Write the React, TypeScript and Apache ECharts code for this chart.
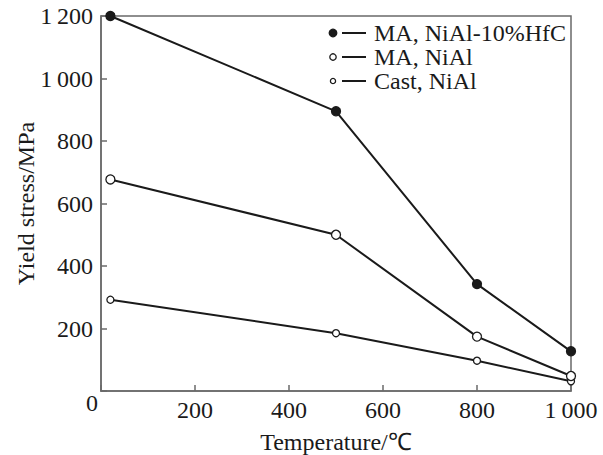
import React, { useEffect, useRef } from "react";
import * as echarts from "echarts";

const temperatures = [20, 500, 800, 1000];
const hfcStress = [1200, 895, 342, 127];
const maNiAlStress = [677, 500, 174, 48];
const castNiAlStress = [292, 185, 97, 31];

const seriesNames = ["MA, NiAl-10%HfC", "MA, NiAl", "Cast, NiAl"];
const xTicks = [0, 200, 400, 600, 800, 1000];
const yTicks = [0, 200, 400, 600, 800, 1000, 1200];

const FONT = "Liberation Serif";
const FS = 24;
const INK = "#1a1a1a";

const fmt = (v: number) =>
  v === 0 ? "" : v >= 1000 ? `${Math.floor(v / 1000)}\u2009${String(v % 1000).padStart(3, "0")}` : String(v);

export default function App() {
  const ref = useRef<HTMLDivElement>(null);

  useEffect(() => {
    if (!ref.current) return;
    const chart = echarts.init(ref.current, undefined, { renderer: "svg" });

    const markerStyles = [
      { size: 9, fill: INK },
      { size: 9, fill: "#fff" },
      { size: 7, fill: "#fff" },
    ];
    const values = [hfcStress, maNiAlStress, castNiAlStress];

    const legendItems: any[] = [];
    seriesNames.forEach((name, i) => {
      const y = 33 + i * 24;
      const r = [3.8, 3.2, 2.6][i];
      legendItems.push(
        {
          type: "circle",
          shape: { cx: 333, cy: y, r },
          style: { fill: markerStyles[i].fill, stroke: INK, lineWidth: 1.3 },
        },
        {
          type: "line",
          shape: { x1: 342, y1: y, x2: 366, y2: y },
          style: { stroke: INK, lineWidth: 2 },
        },
        {
          type: "text",
          x: 374,
          y,
          style: {
            text: name,
            fontFamily: FONT,
            fontSize: FS,
            fill: INK,
            verticalAlign: "middle",
            align: "left",
          },
        }
      );
    });

    const axisText = { fontFamily: FONT, fontSize: FS, color: INK };

    chart.setOption({
      animation: false,
      backgroundColor: "#fff",
      textStyle: { fontFamily: FONT },
      grid: {
        left: 101,
        right: 32,
        top: 16,
        bottom: 64,
        containLabel: false,
        outerBoundsMode: "none",
        show: true,
        borderColor: "#6a6a6a",
        borderWidth: 1.5,
      },
      xAxis: {
        type: "value",
        min: 0,
        max: 1000,
        interval: 200,
        name: "Temperature/\u2103",
        nameLocation: "middle",
        nameGap: 39,
        nameMoveOverlap: false,
        nameTextStyle: axisText,
        axisLine: { lineStyle: { color: "#6a6a6a", width: 1.5 } },
        axisTick: { inside: true, length: 6, lineStyle: { color: "#6a6a6a", width: 1.5 } },
        axisLabel: { ...axisText, formatter: fmt, margin: 7, customValues: xTicks },
        splitLine: { show: false },
      },
      yAxis: {
        type: "value",
        min: 0,
        max: 1200,
        interval: 200,
        name: "Yield stress/MPa",
        nameLocation: "middle",
        nameGap: 63,
        nameMoveOverlap: false,
        nameTextStyle: axisText,
        axisLine: { lineStyle: { color: "#6a6a6a", width: 1.5 } },
        axisTick: { inside: true, length: 6, lineStyle: { color: "#6a6a6a", width: 1.5 } },
        axisLabel: { ...axisText, formatter: fmt, margin: 8, customValues: yTicks },
        splitLine: { show: false },
      },
      series: seriesNames.map((name, i) => ({
        name,
        type: "line",
        data: temperatures.map((t, j) => [t, values[i][j]]),
        symbol: "circle",
        symbolSize: markerStyles[i].size,
        showSymbol: true,
        clip: false,
        lineStyle: { color: INK, width: 2 },
        itemStyle: { color: markerStyles[i].fill, borderColor: INK, borderWidth: 1.3 },
        z: 3 - i,
      })),
      graphic: [
        ...legendItems,
        {
          type: "text",
          x: 92,
          y: 403,
          style: {
            text: "0",
            fontFamily: FONT,
            fontSize: FS,
            fill: INK,
            align: "center",
            verticalAlign: "middle",
          },
        },
      ],
    });

    return () => chart.dispose();
  }, []);

  return (
    <div
      ref={ref}
      style={{ width: 603, height: 455, position: "absolute", left: 0, top: 0 }}
    />
  );
}
